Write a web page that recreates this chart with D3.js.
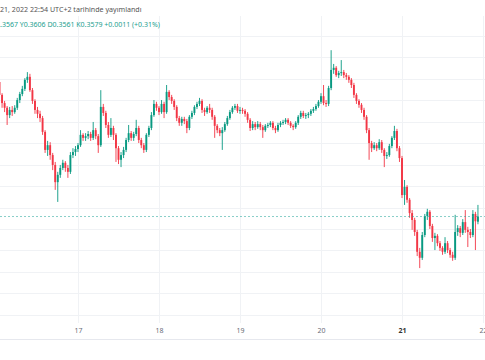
<!DOCTYPE html>
<html><head><meta charset="utf-8">
<script src="https://cdn.jsdelivr.net/npm/d3@7"></script>
<style>html,body{margin:0;padding:0;background:#fff;overflow:hidden}</style>
</head><body><svg id="c" width="485" height="360"></svg>
<script>
// ---- data (45-minute candles starting 16 Dec 2022 00:00) ----
const startTime = Date.UTC(2022, 11, 16, 0, 0);
const barMinutes = 45;
const open = [
.3901,.3892,.3862,.3843,.3832,.3815,.3827,.3822,.3832,.3850,
.3864,.3876,.3897,.3904,.3873,.3848,.3827,.3818,.3808,.3776,
.3734,.3745,.3722,.3699,.3659,.3676,.3692,.3704,.3692,.3683,
.3722,.3729,.3736,.3745,.3769,.3762,.3766,.3771,.3762,.3780,
.3766,.3745,.3834,.3820,.3792,.3769,.3785,.3769,.3738,.3711,
.3722,.3734,.3757,.3773,.3762,.3771,.3785,.3757,.3745,.3734,
.3769,.3785,.3815,.3841,.3832,.3822,.3841,.3822,.3869,.3857,
.3848,.3834,.3808,.3797,.3806,.3801,.3785,.3811,.3820,.3834,
.3841,.3848,.3827,.3822,.3832,.3827,.3811,.3790,.3780,.3773,
.3780,.3794,.3808,.3822,.3832,.3836,.3825,.3827,.3825,.3818,
.3804,.3785,.3794,.3787,.3794,.3787,.3780,.3790,.3792,.3797,
.3785,.3780,.3792,.3797,.3799,.3804,.3797,.3790,.3787,.3797,
.3811,.3820,.3813,.3815,.3818,.3825,.3829,.3836,.3846,.3859,
.3843,.3841,.3878,.3920,.3925,.3908,.3913,.3915,.3908,.3904,
.3897,.3885,.3862,.3848,.3839,.3827,.3811,.3780,.3750,.3738,
.3745,.3738,.3752,.3734,.3720,.3722,.3743,.3762,.3778,.3738,
.3715,.3629,.3648,.3618,.3587,.3571,.3543,.3497,.3483,.3536,
.3580,.3590,.3557,.3529,.3534,.3517,.3506,.3497,.3517,.3501,
.3490,.3483,.3543,.3552,.3541,.3566,.3548,.3543,.3536,.3585,
.3567];
const high = [
.3908,.3897,.3866,.3848,.3836,.3834,.3836,.3838,.3855,.3869,
.3883,.3901,.3915,.3911,.3878,.3852,.3834,.3825,.3813,.3780,
.3755,.3752,.3727,.3706,.3683,.3699,.3711,.3708,.3699,.3729,
.3738,.3743,.3750,.3780,.3773,.3773,.3778,.3776,.3799,.3785,
.3771,.3873,.3841,.3825,.3799,.3808,.3790,.3773,.3743,.3729,
.3741,.3762,.3792,.3778,.3776,.3804,.3790,.3762,.3750,.3773,
.3790,.3822,.3850,.3846,.3836,.3850,.3846,.3885,.3873,.3862,
.3852,.3838,.3813,.3811,.3811,.3806,.3815,.3825,.3838,.3846,
.3855,.3852,.3832,.3836,.3841,.3832,.3815,.3794,.3785,.3787,
.3799,.3813,.3827,.3836,.3841,.3841,.3834,.3832,.3829,.3822,
.3808,.3801,.3799,.3801,.3799,.3792,.3794,.3797,.3801,.3801,
.3790,.3797,.3801,.3804,.3808,.3808,.3801,.3794,.3801,.3815,
.3825,.3825,.3820,.3822,.3829,.3834,.3841,.3850,.3866,.3885,
.3850,.3883,.3966,.3934,.3929,.3918,.3943,.3920,.3913,.3908,
.3901,.3890,.3866,.3852,.3843,.3832,.3815,.3785,.3755,.3752,
.3750,.3759,.3757,.3738,.3729,.3748,.3766,.3790,.3783,.3743,
.3720,.3664,.3652,.3622,.3594,.3576,.3548,.3506,.3543,.3585,
.3597,.3594,.3562,.3541,.3538,.3522,.3510,.3531,.3522,.3506,
.3497,.3583,.3559,.3557,.3573,.3594,.3555,.3550,.3594,.3590,
.3606];
const low = [
.3883,.3857,.3832,.3822,.3792,.3808,.3813,.3818,.3827,.3843,
.3859,.3871,.3890,.3869,.3841,.3818,.3808,.3799,.3769,.3727,
.3720,.3711,.3687,.3641,.3613,.3669,.3687,.3683,.3669,.3678,
.3715,.3720,.3729,.3741,.3755,.3755,.3759,.3755,.3757,.3759,
.3727,.3741,.3813,.3785,.3762,.3764,.3757,.3706,.3701,.3694,
.3715,.3729,.3752,.3755,.3755,.3766,.3750,.3738,.3727,.3729,
.3764,.3780,.3811,.3825,.3815,.3818,.3808,.3818,.3850,.3841,
.3827,.3801,.3790,.3790,.3794,.3773,.3780,.3806,.3815,.3829,
.3836,.3820,.3813,.3818,.3820,.3804,.3762,.3773,.3766,.3734,
.3776,.3790,.3804,.3818,.3827,.3820,.3818,.3818,.3811,.3797,
.3778,.3780,.3780,.3783,.3780,.3762,.3776,.3785,.3787,.3780,
.3773,.3776,.3787,.3792,.3794,.3792,.3785,.3780,.3783,.3792,
.3806,.3808,.3806,.3808,.3813,.3820,.3825,.3832,.3841,.3838,
.3834,.3836,.3873,.3911,.3904,.3901,.3906,.3901,.3897,.3890,
.3878,.3855,.3841,.3832,.3820,.3804,.3773,.3711,.3729,.3734,
.3731,.3734,.3727,.3694,.3713,.3718,.3738,.3757,.3731,.3706,
.3622,.3606,.3611,.3576,.3548,.3534,.3487,.3459,.3478,.3531,
.3571,.3550,.3520,.3501,.3510,.3499,.3490,.3492,.3494,.3483,
.3476,.3478,.3534,.3531,.3536,.3541,.3508,.3529,.3531,.3501,
.3561];
const close = [
.3892,.3862,.3843,.3832,.3815,.3827,.3822,.3832,.3850,.3864,
.3876,.3897,.3904,.3873,.3848,.3827,.3818,.3808,.3776,.3734,
.3745,.3722,.3699,.3659,.3676,.3692,.3704,.3692,.3683,.3722,
.3729,.3736,.3745,.3769,.3762,.3766,.3771,.3762,.3780,.3766,
.3745,.3834,.3820,.3792,.3769,.3785,.3769,.3738,.3711,.3722,
.3734,.3757,.3773,.3762,.3771,.3785,.3757,.3745,.3734,.3769,
.3785,.3815,.3841,.3832,.3822,.3841,.3822,.3869,.3857,.3848,
.3834,.3808,.3797,.3806,.3801,.3785,.3811,.3820,.3834,.3841,
.3848,.3827,.3822,.3832,.3827,.3811,.3790,.3780,.3773,.3780,
.3794,.3808,.3822,.3832,.3836,.3825,.3827,.3825,.3818,.3804,
.3785,.3794,.3787,.3794,.3787,.3780,.3790,.3792,.3797,.3785,
.3780,.3792,.3797,.3799,.3804,.3797,.3790,.3787,.3797,.3811,
.3820,.3813,.3815,.3818,.3825,.3829,.3836,.3846,.3859,.3843,
.3841,.3878,.3920,.3925,.3908,.3913,.3915,.3908,.3904,.3897,
.3885,.3862,.3848,.3839,.3827,.3811,.3780,.3750,.3738,.3745,
.3738,.3752,.3734,.3720,.3722,.3743,.3762,.3778,.3738,.3715,
.3629,.3648,.3618,.3587,.3571,.3543,.3497,.3483,.3536,.3580,
.3590,.3557,.3529,.3534,.3517,.3506,.3497,.3517,.3501,.3490,
.3483,.3543,.3552,.3541,.3566,.3548,.3543,.3536,.3585,.3568,
.3579];
const dayTicks = [17, 18, 19, 20, 21, 22];
const priceGrid = [0.335, 0.340, 0.345, 0.350, 0.355, 0.360, 0.365, 0.370, 0.375, 0.380, 0.385, 0.390, 0.395, 0.400];
const lastPrice = 0.3579;
const headerText = "21, 2022 22:54 UTC+2 tarihinde yayımlandı";
const legendText = ".3567 Y0.3606 D0.3561 K0.3579 +0.0011 (+0.31%)";

// ---- drawing ----
const UP = "#089981", DOWN = "#f23645";
const paneTop = 16, paneBottom = 323;
const svg = d3.select("#c");
svg.append("rect").attr("width", 485).attr("height", 360).attr("fill", "#fff");

const x = d3.scaleUtc()
  .domain([new Date(Date.UTC(2022, 11, 17)), new Date(Date.UTC(2022, 11, 22))])
  .range([78, 483]);
const y = d3.scaleLinear().domain([0.34, 0.40]).range([293.46, 35.58]);
const tickDates = dayTicks.map(d => new Date(Date.UTC(2022, 11, d)));

// grid
svg.append("g").selectAll("line").data(priceGrid).join("line")
  .attr("x1", 0).attr("x2", 485)
  .attr("y1", d => Math.round(y(d)) + 0.5).attr("y2", d => Math.round(y(d)) + 0.5)
  .attr("stroke", "#f0f2f5").attr("stroke-width", 1);
svg.append("g").selectAll("line").data(tickDates).join("line")
  .attr("x1", d => Math.round(x(d)) + 0.5).attr("x2", d => Math.round(x(d)) + 0.5)
  .attr("y1", paneTop).attr("y2", paneBottom)
  .attr("stroke", "#f0f2f5").attr("stroke-width", 1);

// candles
const bars = open.map((o, i) => ({
  t: new Date(startTime + i * barMinutes * 60000),
  o, h: high[i], l: low[i], c: close[i]
}));
const g = svg.append("g");
g.selectAll("line.w").data(bars).join("line").attr("class", "w")
  .attr("x1", d => x(d.t)).attr("x2", d => x(d.t))
  .attr("y1", d => y(d.h)).attr("y2", d => y(d.l))
  .attr("stroke", d => d.c >= d.o ? UP : DOWN).attr("stroke-width", 0.9);
g.selectAll("rect.b").data(bars).join("rect").attr("class", "b")
  .attr("x", d => x(d.t) - 0.95).attr("width", 1.9)
  .attr("y", d => y(Math.max(d.o, d.c)))
  .attr("height", d => Math.max(1, Math.abs(y(d.o) - y(d.c))))
  .attr("fill", d => d.c >= d.o ? UP : DOWN);

// last price dashed line
svg.append("line").attr("x1", 0).attr("x2", 485)
  .attr("y1", y(lastPrice)).attr("y2", y(lastPrice))
  .attr("stroke", "#26a69a").attr("stroke-opacity", 0.55)
  .attr("stroke-dasharray", "2,2").attr("stroke-width", 1);

// time axis
const axis = svg.append("g").attr("transform", `translate(0,${paneBottom})`)
  .call(d3.axisBottom(x).tickValues(tickDates).tickFormat(d => d.getUTCDate()).tickSize(0).tickPadding(5));
axis.select(".domain").remove();
axis.selectAll("text").attr("font-family", "'Noto Sans', sans-serif").attr("font-size", 7)
  .attr("fill", d => d.getUTCDate() === 21 ? "#333" : "#6a6d78")
  .attr("font-weight", d => d.getUTCDate() === 21 ? 700 : 400);
svg.append("line").attr("x1", 0).attr("x2", 485).attr("y1", 339.5).attr("y2", 339.5)
  .attr("stroke", "#e6e8ee");

// header texts
svg.append("text").attr("x", 0).attr("y", 11.5).text(headerText)
  .attr("font-family", "'Noto Sans', sans-serif").attr("font-size", 7.1).attr("fill", "#555");
svg.append("text").attr("x", 0).attr("y", 26.5).text(legendText)
  .attr("font-family", "'Noto Sans', sans-serif").attr("font-size", 7).attr("fill", "#22a08f");
</script></body></html>
